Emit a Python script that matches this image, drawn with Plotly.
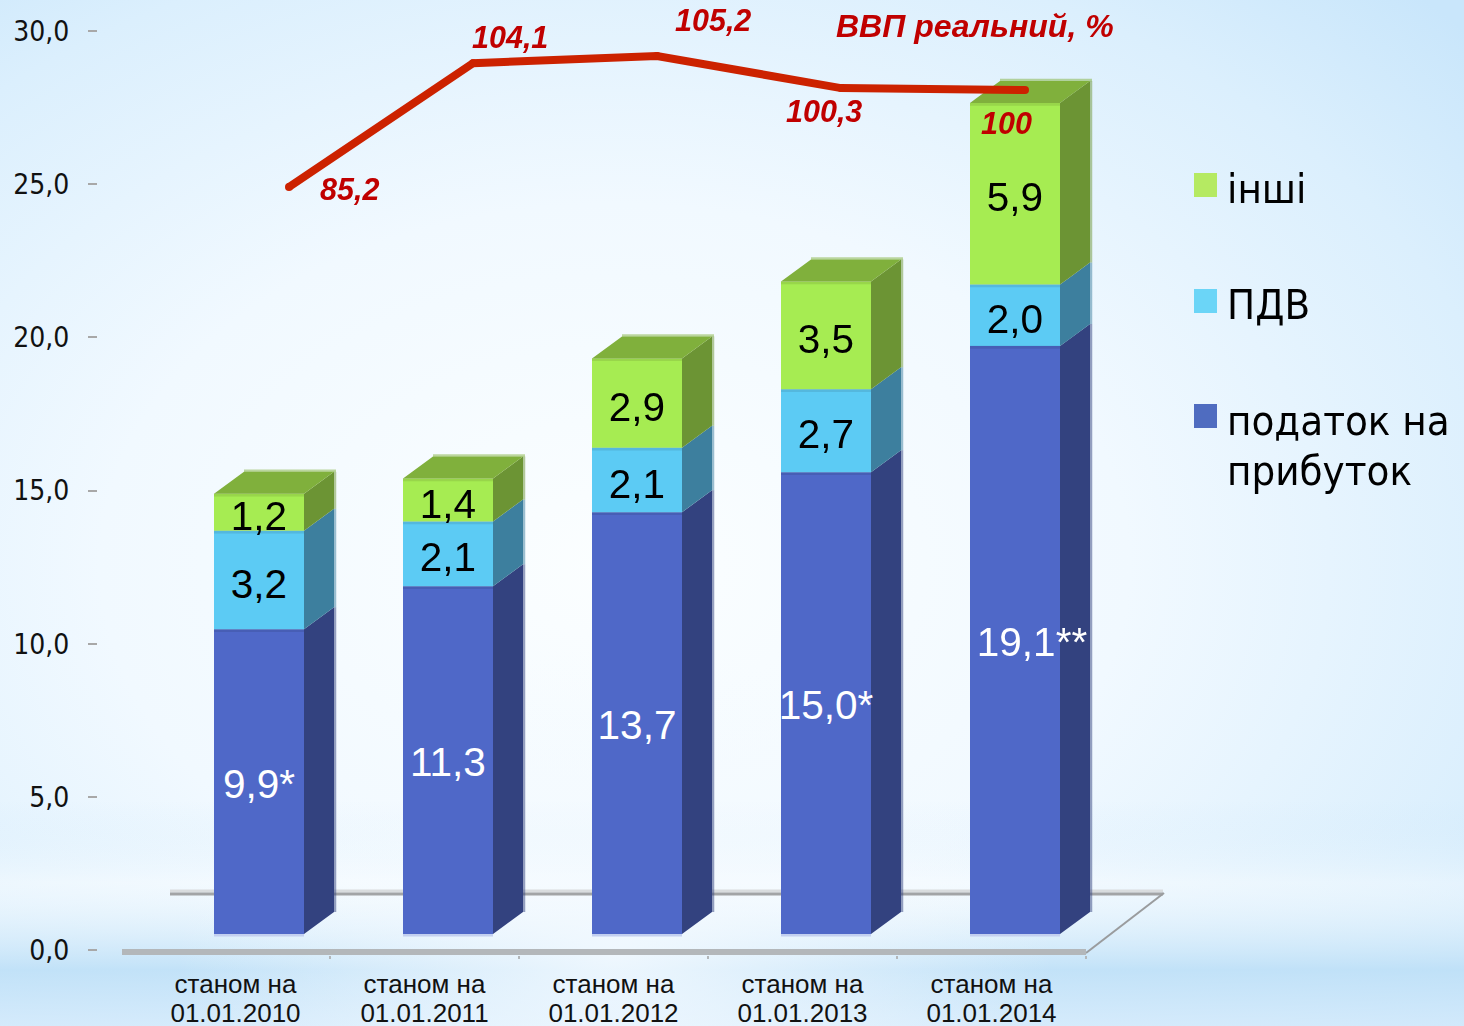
import base64
import plotly.graph_objects as go

# ---------- data ----------
dates = ["01.01.2010", "01.01.2011", "01.01.2012", "01.01.2013", "01.01.2014"]
profit_tax = [9.9, 11.3, 13.7, 15.0, 19.1]
vat = [3.2, 2.1, 2.1, 2.7, 2.0]
other = [1.2, 1.4, 2.9, 3.5, 5.9]
profit_labels = ["9,9*", "11,3", "13,7", "15,0*", "19,1**"]
gdp = [85.2, 104.1, 105.2, 100.3, 100]
gdp_labels = ["85,2", "104,1", "105,2", "100,3", "100"]

# ---------- geometry of the page (pixels) ----------
W, H = 1464, 1026
PX_X0, PX_CAT, PX_CENTER = 122, 189, 235.5   # plot left, category step, first category centre
PX_Y0, PX_UNIT = 950, 30.63                  # y=0 and pixels per unit (visible axis)
PX_BOTTOM = 955
BAR_Y0, BAR_UNIT = 934, 30.78                # foot of the bars and their own scale
X = lambda px: (px - PX_CENTER) / PX_CAT
Y = lambda py: (PX_Y0 - py) / PX_UNIT
bw = 90 / PX_CAT
shift = 23.5 / PX_CAT
dx, dy = 30 / PX_CAT, 22 / BAR_UNIT
idx = list(range(len(dates)))
xr = [X(PX_X0), X(W)]
yr = [Y(PX_BOTTOM), Y(0)]
y3r = [(BAR_Y0 - PX_BOTTOM) / BAR_UNIT, BAR_Y0 / BAR_UNIT]

# GDP line has its own scale
GDP_PX = 6.55
g_top = 105.2 + 56 / GDP_PX
g_bot = g_top - PX_BOTTOM / GDP_PX
g_xr = [(PX_X0 - 289) / 184, (W - 289) / 184]

series = [
    ("податок на прибуток", profit_tax, "#4f68c8", "#33427f", None),
    ("ПДВ", vat, "#5ccbf4", "#3d7f9e", None),
    ("інші", other, "#a6ec52", "#6c9434", "#80b03c"),
]

svg = f'''<svg xmlns="http://www.w3.org/2000/svg" width="{W}" height="{H}">
<defs>
<radialGradient id="r" cx="0.42" cy="0.55" r="0.78">
<stop offset="0" stop-color="#fbfeff"/><stop offset="0.45" stop-color="#f1f9ff"/>
<stop offset="0.8" stop-color="#dbeffd"/><stop offset="1" stop-color="#c9e6fb"/></radialGradient>
<linearGradient id="b" x1="0" y1="0" x2="0" y2="1">
<stop offset="0" stop-color="#bcdff7" stop-opacity="0"/><stop offset="0.78" stop-color="#bcdff7" stop-opacity="0"/>
<stop offset="0.86" stop-color="#ffffff" stop-opacity="0.35"/>
<stop offset="0.945" stop-color="#bcdff7" stop-opacity="0.85"/>
<stop offset="1" stop-color="#d2e9fb" stop-opacity="0.8"/></linearGradient>
<radialGradient id="c" cx="0.42" cy="0.93" r="0.3">
<stop offset="0" stop-color="#f4faff" stop-opacity="0.85"/><stop offset="1" stop-color="#f4faff" stop-opacity="0"/></radialGradient>
</defs>
<rect width="{W}" height="{H}" fill="url(#r)"/><rect width="{W}" height="{H}" fill="url(#b)"/>
<rect width="{W}" height="{H}" fill="url(#c)"/></svg>'''
bg = "data:image/svg+xml;base64," + base64.b64encode(svg.encode()).decode()

fig = go.Figure()
base = [0.0] * len(idx)
label_x, label_y, label_t, label_c = [], [], [], []
kw = dict(showlegend=False, hoverinfo="skip", yaxis="y3")
for name, vals, front, side, top in series:
    fig.add_trace(go.Bar(name=name, x=idx, y=vals, base=base, width=bw,
                         offset=-bw / 2 + shift, marker=dict(color=front, line_width=0), **kw))
    sx, sy, rx, ry = [], [], [], []
    for i, v, b in zip(idx, vals, base):
        x1 = i + shift + bw / 2
        sx += [x1, x1 + dx, x1 + dx, x1, x1, None]
        sy += [b, b + dy, b + v + dy, b + v, b, None]
        rx += [x1 + dx + 1 / PX_CAT, x1 + dx + 1 / PX_CAT, None]
        ry += [b + dy, b + v + dy, None]
    fig.add_trace(go.Scatter(x=sx, y=sy, mode="lines", fill="toself", fillcolor=side,
                             line=dict(width=0), **kw))
    fig.add_trace(go.Scatter(x=rx, y=ry, mode="lines", line=dict(width=2.5, color=side),
                             opacity=0.5, **kw))
    # soft strip along each segment's upper edge
    ex, ey = [], []
    for i, v, b in zip(idx, vals, base):
        ex += [i + shift - bw / 2, i + shift + bw / 2, None]
        ey += [b + v - 1.2 / BAR_UNIT, b + v - 1.2 / BAR_UNIT, None]
    fig.add_trace(go.Scatter(x=ex, y=ey, mode="lines", line=dict(width=3, color=side),
                             opacity=0.25, **kw))
    if top:
        tx, ty, bx, by = [], [], [], []
        for i, v, b in zip(idx, vals, base):
            x0, x1 = i + shift - bw / 2, i + shift + bw / 2
            tx += [x0, x0 + dx, x1 + dx, x1, x0, None]
            ty += [b + v, b + v + dy, b + v + dy, b + v, b + v, None]
            bx += [x0 + dx, x1 + dx + 2 / PX_CAT, None]
            by += [b + v + dy + 1 / BAR_UNIT, b + v + dy + 1 / BAR_UNIT, None]
        fig.add_trace(go.Scatter(x=tx, y=ty, mode="lines", fill="toself", fillcolor=top,
                                 line=dict(width=0), **kw))
        fig.add_trace(go.Scatter(x=bx, y=by, mode="lines", line=dict(width=2.5, color=top),
                                 opacity=0.5, **kw))
    for i, v, b in zip(idx, vals, base):
        label_x.append(i + shift)
        if vals is profit_tax:
            label_y.append(b + v / 2 - 6 / BAR_UNIT)
            label_t.append(profit_labels[i])
            label_c.append("white")
            if i == 4:
                label_x[-1] += 17 / PX_CAT
        else:
            label_y.append(b + v / 2 - 7.5 / BAR_UNIT)
            label_t.append(f"{v:.1f}".replace(".", ","))
            label_c.append("black")
    base = [b + v for b, v in zip(base, vals)]

# light strip at the foot of the bars
fx, fy = [], []
for i in idx:
    fx += [i + shift - bw / 2, i + shift + bw / 2, None]
    fy += [-1.2 / BAR_UNIT, -1.2 / BAR_UNIT, None]
fig.add_trace(go.Scatter(x=fx, y=fy, mode="lines", line=dict(width=2.5, color="#c3d0f0"), **kw))

fig.add_trace(go.Scatter(x=label_x, y=label_y, mode="text", text=label_t,
                         textposition="middle center", cliponaxis=False,
                         textfont=dict(family="Liberation Sans", size=40.5, color=label_c), **kw))

# carrier of the second row of category labels
fig.add_trace(go.Scatter(x=idx, y=[0] * len(idx), xaxis="x3", yaxis="y", mode="markers",
                         marker=dict(opacity=0), showlegend=False, hoverinfo="skip"))

# GDP line on its own overlaying axes
fig.add_trace(go.Scatter(x=idx, y=gdp, xaxis="x2", yaxis="y2", mode="lines+markers",
                         line=dict(color="#cc2200", width=8, shape="linear"),
                         marker=dict(color="#cc2200", size=8),
                         showlegend=False, hoverinfo="skip"))

red = "#c00000"
rfont = dict(family="Liberation Sans", size=30.5, color=red)
offsets = [(60, -2), (37, 26), (56, 36), (-17, -23), (-19, -33)]
anns = []
for i, (g, t, (sx_, sy_)) in enumerate(zip(gdp, gdp_labels, offsets)):
    anns.append(dict(x=i, y=g, xref="x2", yref="y2", text=f"<b><i>{t}</i></b>", showarrow=False,
                     xshift=sx_, yshift=sy_, font=rfont, xanchor="center", yanchor="middle"))
anns.append(dict(x=975 / W, y=1 - 26 / H, xref="paper", yref="paper", showarrow=False,
                 text="<b><i>ВВП реальний, %</i></b>", xanchor="center", yanchor="middle",
                 font=dict(family="Liberation Sans", size=32, color=red)))

# legend
legend_sw = [("#b5ea62", 185), ("#6bd5f7", 301), ("#4f6cc0", 416)]
legend_tx = [("інші", 188), ("ПДВ", 304), ("податок на", 420), ("прибуток", 471)]
shapes = []
for c, sq in legend_sw:
    shapes.append(dict(type="rect", xref="paper", yref="paper", x0=1194 / W, x1=1217 / W,
                       y0=1 - (sq + 12) / H, y1=1 - (sq - 12) / H, fillcolor=c, line_width=0))
for t, ty in legend_tx:
    anns.append(dict(x=1225 / W, y=1 - ty / H, xref="paper", yref="paper", text=t, showarrow=False,
                     xanchor="left", yanchor="middle", align="left",
                     font=dict(family="DejaVu Sans Condensed", size=41.6, color="black")))

# floor
gray = "#b3b7ba"
xl, xr_end = X(PX_X0), X(1086)
shapes += [
    dict(type="line", xref="x", yref="y", x0=X(170), x1=X(1163), y0=Y(891), y1=Y(891),
         line=dict(color="#d9dcde", width=3), layer="below"),
    dict(type="line", xref="x", yref="y", x0=X(170), x1=X(1163), y0=Y(894), y1=Y(894),
         line=dict(color="#a2a4a6", width=3), layer="below"),
    dict(type="line", xref="x", yref="y", x0=X(1086), x1=X(1164), y0=Y(953), y1=Y(893),
         line=dict(color="#9a9c9e", width=2), layer="below"),
    dict(type="line", xref="x", yref="y", x0=xl, x1=xr_end, y0=Y(952), y1=Y(952),
         line=dict(color=gray, width=6), layer="below"),
]

lab = dict(family="Liberation Sans", size=26, color="#111111")
boundaries = [i + 0.5 for i in idx]
x_dom = [PX_X0 / W, 1]
y_dom = [(H - PX_BOTTOM) / H, 1]
fig.update_layout(
    width=W, height=H, margin=dict(l=0, r=0, t=0, b=0), autosize=False,
    paper_bgcolor="rgba(0,0,0,0)", plot_bgcolor="rgba(0,0,0,0)",
    barmode="overlay", separators=", ", showlegend=False,
    annotations=anns, shapes=shapes,
    images=[dict(source=bg, xref="paper", yref="paper", x=0, y=1, sizex=1, sizey=1,
                 xanchor="left", yanchor="top", sizing="stretch", layer="below")],
    xaxis=dict(domain=x_dom, range=xr, tickmode="array", tickvals=idx,
               ticktext=["станом на"] * len(idx), showgrid=False, zeroline=False, showline=False,
               ticks="", tickfont=lab, ticklabelstandoff=11, automargin=False,
               minor=dict(tickmode="array", tickvals=boundaries, ticks="outside", ticklen=3,
                          tickwidth=2, tickcolor=gray, showgrid=False)),
    xaxis3=dict(domain=x_dom, range=xr, overlaying="x", anchor="y", side="bottom", tickmode="array",
                tickvals=idx, ticktext=dates, showgrid=False, zeroline=False, showline=False,
                ticks="", tickfont=lab, ticklabelstandoff=40, automargin=False),
    yaxis=dict(domain=y_dom, range=yr, anchor="free", position=97 / W, tickmode="array",
               tickvals=[0, 5, 10, 15, 20, 25, 30], tickformat=".1f", ticks="outside", ticklen=9,
               tickwidth=2, tickcolor="#a8a8a8", showgrid=False, zeroline=False, showline=False,
               tickfont=dict(family="DejaVu Sans Condensed", size=28, color="#111111"),
               ticklabelstandoff=13, automargin=False),
    yaxis3=dict(domain=y_dom, range=y3r, overlaying="y", anchor="x", visible=False),
    xaxis2=dict(domain=x_dom, range=g_xr, overlaying="x", anchor="y2", visible=False),
    yaxis2=dict(domain=y_dom, range=[g_bot, g_top], overlaying="y", anchor="x2", visible=False),
)
fig.write_html("out.html", config=dict(displayModeBar=False),
               post_script="document.body.style.margin='0';document.body.style.overflow='hidden';")
